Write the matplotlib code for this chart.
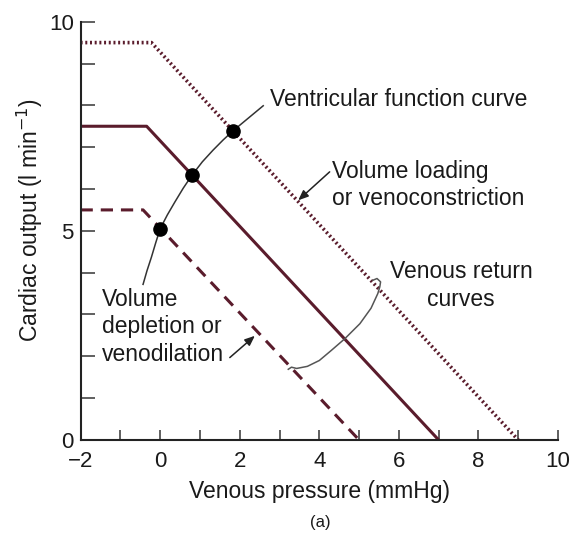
import matplotlib
matplotlib.use("Agg")
import matplotlib.pyplot as plt

plt.rcParams['font.family'] = ['Liberation Sans', 'DejaVu Sans']

# ---- data ----
x_plateau_start = -2
# venous return curves: (plateau level, plateau end x, x-intercept)
vr_loaded = [9.5, -0.22, 9.0]
vr_normal = [7.5, -0.34, 7.0]
vr_depleted = [5.5, -0.43, 5.0]

# ventricular function curve (read points)
vf_x = [-0.43, -0.33, -0.22, -0.11, 0.0, 0.18, 0.37, 0.58, 0.80, 1.06, 1.33, 1.58, 1.83, 2.59]
vf_y = [3.72, 4.05, 4.37, 4.72, 5.05, 5.38, 5.69, 6.02, 6.33, 6.65, 6.93, 7.17, 7.39, 7.99]

# equilibrium points
eq_x = [0.0, 0.80, 1.83]
eq_y = [5.05, 6.33, 7.39]

# bracket for "Venous return curves"
br_x = [5.35, 5.45, 5.54, 5.52, 5.47, 5.30, 5.02, 4.64, 4.30, 4.00, 3.70, 3.43, 3.30, 3.22]
br_y = [3.82, 3.86, 3.78, 3.66, 3.50, 3.15, 2.78, 2.42, 2.14, 1.90, 1.76, 1.71, 1.74, 1.69]

x_ticks_major = [-2, 0, 2, 4, 6, 8, 10]
x_ticks_minor = list(range(-2, 11))
y_ticks_major = [0, 5, 10]
y_ticks_minor = list(range(0, 11))

line_color = '#5a1c2c'
text_color = '#1a1a1a'

fig = plt.figure(figsize=(5.70, 5.38), dpi=100)
ax = fig.add_axes([0.1414, 0.1822, 0.979 - 0.1414, 0.9597 - 0.1822])


def vr_curve(p):
    level, xend, xint = p
    return [x_plateau_start, xend, xint], [level, level, 0]


xs, ys = vr_curve(vr_loaded)
ax.plot(xs, ys, color=line_color, lw=2.6, linestyle=(0, (0.55, 0.75)), solid_capstyle='butt')
xs, ys = vr_curve(vr_normal)
ax.plot(xs, ys, color=line_color, lw=2.2, linestyle='-')
xs, ys = vr_curve(vr_depleted)
ax.plot(xs, ys, color=line_color, lw=2.2, linestyle=(0, (4.0, 2.6)))

ax.plot(vf_x, vf_y, color='#333333', lw=1.1, solid_joinstyle='round')
ax.plot(eq_x, eq_y, 'o', color='black', markersize=9.5, zorder=5)

ax.plot(br_x, br_y, color='#555555', lw=1.1, solid_joinstyle='round')

fs = 16.5
ax.text(2.75, 8.13, 'Ventricular function curve', fontsize=fs, ha='left', va='center', color=text_color)
ax.text(4.31, 6.09, 'Volume loading\nor venoconstriction', fontsize=fs, ha='left', va='center',
        linespacing=1.25, color=text_color)
ax.annotate('', xy=(3.47, 5.73), xytext=(4.26, 6.41),
            arrowprops=dict(arrowstyle='-|>,head_length=0.6,head_width=0.25', color='#222222', lw=1.1,
                            shrinkA=0, shrinkB=0))
ax.text(7.56, 3.69, 'Venous return\ncurves', fontsize=fs, ha='center', va='center',
        linespacing=1.25, multialignment='center', color=text_color)
ax.text(-1.47, 2.71, 'Volume\ndepletion or\nvenodilation', fontsize=fs, ha='left', va='center',
        linespacing=1.25, color=text_color)
ax.annotate('', xy=(2.38, 2.49), xytext=(1.75, 1.97),
            arrowprops=dict(arrowstyle='-|>,head_length=0.6,head_width=0.25', color='#222222', lw=1.1,
                            shrinkA=0, shrinkB=0))

ax.set_xlim(-2, 10)
ax.set_ylim(0, 10)
ax.spines['top'].set_visible(False)
ax.spines['right'].set_visible(False)
ax.spines['left'].set_linewidth(1.5)
ax.spines['bottom'].set_linewidth(1.5)
ax.spines['left'].set_color('#222222')
ax.spines['bottom'].set_color('#222222')

ax.set_xticks(x_ticks_major)
ax.set_xticklabels(['\u22122', '0', '2', '4', '6', '8', '10'])
ax.set_xticks(x_ticks_minor, minor=True)
ax.set_yticks(y_ticks_major)
ax.set_yticks(y_ticks_minor, minor=True)
ax.tick_params(axis='x', which='both', direction='in', length=7, width=1.2, color='#444444',
               labelsize=16, pad=8, labelcolor=text_color)
ax.tick_params(axis='y', which='both', direction='in', length=10, width=1.2, color='#444444',
               labelsize=16, pad=5, labelcolor=text_color)

ax.set_xlabel('Venous pressure (mmHg)', fontsize=fs, color=text_color)
ax.xaxis.set_label_coords(0.5, -0.124)
ax.xaxis.label.set_va('center')
ax.set_ylabel('Cardiac output (l min$^{-1}$)', fontsize=fs, color=text_color)
ax.yaxis.set_label_coords(-0.106, 0.526)
ax.yaxis.label.set_va('center')

fig.text(320 / 570, 1 - 523 / 538, '(a)', fontsize=12, ha='center', va='center', color=text_color)

fig.savefig('out.png', dpi=100)
